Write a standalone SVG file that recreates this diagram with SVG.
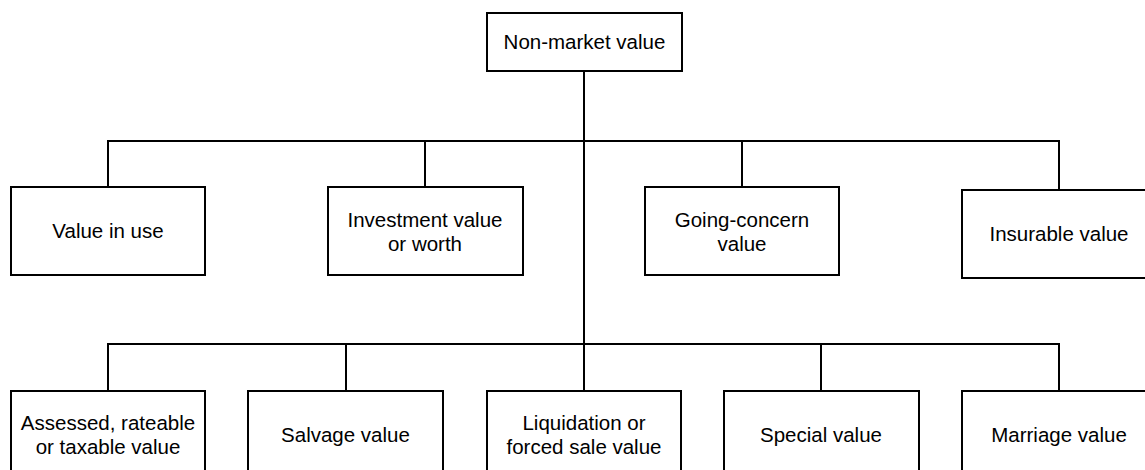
<svg xmlns="http://www.w3.org/2000/svg" width="1145" height="470" viewBox="0 0 1145 470">
<style>
.box{fill:#fff;stroke:#000;stroke-width:2}
.ln{fill:none;stroke:#000;stroke-width:2}
text{font-family:"Liberation Sans",Arial,sans-serif;font-size:20.5px;fill:#000;text-anchor:middle}
</style>
<rect width="1145" height="470" fill="#fff"/>
<g id="connectors">
<path class="ln" d="M584,71 V391"/>
<path class="ln" d="M108,187 V141 H1059 V190 M425,141 V187 M742,141 V187"/>
<path class="ln" d="M108,391 V344 H1059 V391 M346,344 V391 M821,344 V391"/>
</g>
<g id="root"><rect class="box" x="487" y="13" width="195" height="58"/><text x="584.5" y="49">Non-market value</text></g>
<g id="value-in-use"><rect class="box" x="11" y="187" width="194" height="88"/><text x="108" y="238">Value in use</text></g>
<g id="investment"><rect class="box" x="328" y="187" width="195" height="88"/><text x="425" y="227">Investment value</text><text x="425" y="251">or worth</text></g>
<g id="going-concern"><rect class="box" x="645" y="187" width="194" height="88"/><text x="742" y="227">Going-concern</text><text x="742" y="251">value</text></g>
<g id="insurable"><rect class="box" x="962" y="190" width="194" height="88"/><text x="1059" y="241">Insurable value</text></g>
<g id="assessed"><rect class="box" x="11" y="391" width="194" height="100"/><text x="108" y="430">Assessed, rateable</text><text x="108" y="454">or taxable value</text></g>
<g id="salvage"><rect class="box" x="248" y="391" width="195" height="100"/><text x="345.5" y="442">Salvage value</text></g>
<g id="liquidation"><rect class="box" x="487" y="391" width="194" height="100"/><text x="584" y="430">Liquidation or</text><text x="584" y="454">forced sale value</text></g>
<g id="special"><rect class="box" x="724" y="391" width="195" height="100"/><text x="821" y="442">Special value</text></g>
<g id="marriage"><rect class="box" x="962" y="391" width="194" height="100"/><text x="1059" y="442">Marriage value</text></g>
</svg>
